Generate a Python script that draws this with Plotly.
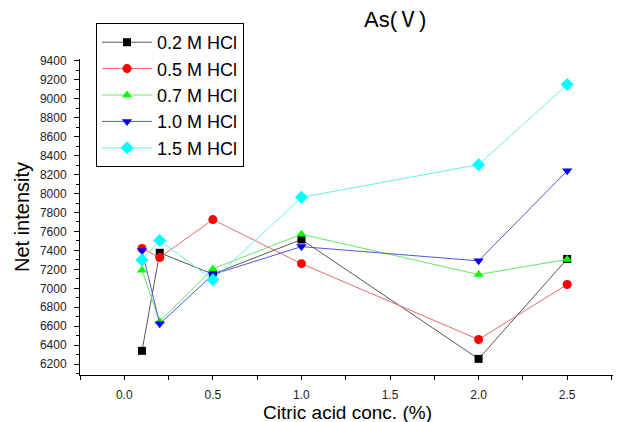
import plotly.graph_objects as go

x_conc = [0.1, 0.2, 0.5, 1.0, 2.0, 2.5]
hcl_02 = [6340, 7375, 7150, 7515, 6255, 7310]
hcl_05 = [7420, 7325, 7725, 7260, 6460, 7040]
hcl_07 = [7190, 6650, 7205, 7570, 7145, 7305]
hcl_10 = [7400, 6625, 7145, 7440, 7290, 8240]
hcl_15 = [7300, 7505, 7090, 7960, 8305, 9150]
series_names = ["0.2 M HCl", "0.5 M HCl", "0.7 M HCl", "1.0 M HCl", "1.5 M HCl"]

series = [hcl_02, hcl_05, hcl_07, hcl_10, hcl_15]
marker_colors = ["#000000", "#ff0000", "#00ff00", "#0000ff", "#00ffff"]
line_colors = ["#555555", "#e86a6a", "#66e666", "#5555dd", "#66eeee"]
symbols = ["square", "circle", "triangle-up", "triangle-down", "diamond"]
sizes = [8, 9, 9, 9, 10]

# page body adds an 8px offset; margins are in figure coordinates
OFF = 8
W, H = 621, 422
L, T = 80 - OFF, 59 - OFF
R = W - (615 - OFF)
B = H - (375 - OFF)
pw, ph = W - L - R, H - T - B

def px_x(p):
    return (p - OFF - L) / pw

def px_y(p):
    return (H - B - (p - OFF)) / ph

fig = go.Figure()
for name, ys, mc, lc, sym, sz in zip(series_names, series, marker_colors, line_colors, symbols, sizes):
    fig.add_trace(go.Scatter(
        x=x_conc, y=ys, name=name, mode="lines+markers",
        line=dict(color=lc, width=1),
        marker=dict(color=mc, symbol=sym, size=sz, line=dict(width=0)),
    ))

fig.update_layout(
    width=W, height=H,
    margin=dict(l=L, r=R, t=T, b=B, autoexpand=False),
    paper_bgcolor="white", plot_bgcolor="white",
    font=dict(family="Liberation Sans, Arial, sans-serif", color="#000000"),
    showlegend=True,
    legend=dict(
        x=px_x(96), y=px_y(23), xanchor="left", yanchor="top",
        bordercolor="#000000", borderwidth=1, bgcolor="white",
        font=dict(size=18, color="#000000"),
        itemwidth=50,
        tracegroupgap=0,
    ),
    annotations=[dict(
        text="As(Ⅴ)", x=px_x(395), y=px_y(19),
        xref="paper", yref="paper", xanchor="center", yanchor="middle",
        showarrow=False,
        font=dict(size=22, family="Liberation Sans, Noto Sans CJK SC, sans-serif", color="#000000"),
    )],
)

fig.update_xaxes(
    range=[-0.25, 2.77], automargin=False,
    tickmode="array", tickvals=[0.0, 0.5, 1.0, 1.5, 2.0, 2.5],
    ticktext=["0.0", "0.5", "1.0", "1.5", "2.0", "2.5"],
    ticks="outside", ticklen=4, tickwidth=1, tickcolor="#000000",
    minor=dict(tickvals=[-0.25, 0.25, 0.75, 1.25, 1.75, 2.25, 2.75], ticks="outside", ticklen=4, tickwidth=1, tickcolor="#000000"),
    showline=True, linecolor="#000000", linewidth=1,
    showgrid=False, zeroline=False,
    tickfont=dict(size=12, color="#222222"),
    ticklabelstandoff=5,
    title=dict(text="Citric acid conc. (%)", font=dict(size=19), standoff=2),
)
fig.update_yaxes(
    range=[6085, 9420], automargin=False,
    tickmode="array", tickvals=list(range(6200, 9401, 200)),
    ticks="outside", ticklen=5, tickwidth=1, tickcolor="#000000",
    minor=dict(tickvals=list(range(6100, 9401, 200)), ticks="outside", ticklen=3, tickwidth=1, tickcolor="#000000"),
    showline=True, linecolor="#000000", linewidth=1,
    showgrid=False, zeroline=False,
    tickfont=dict(size=12, color="#222222"),
    ticklabelstandoff=5,
    title=dict(text="Net intensity", font=dict(size=20), standoff=4),
)

fig.write_html("out.html")
